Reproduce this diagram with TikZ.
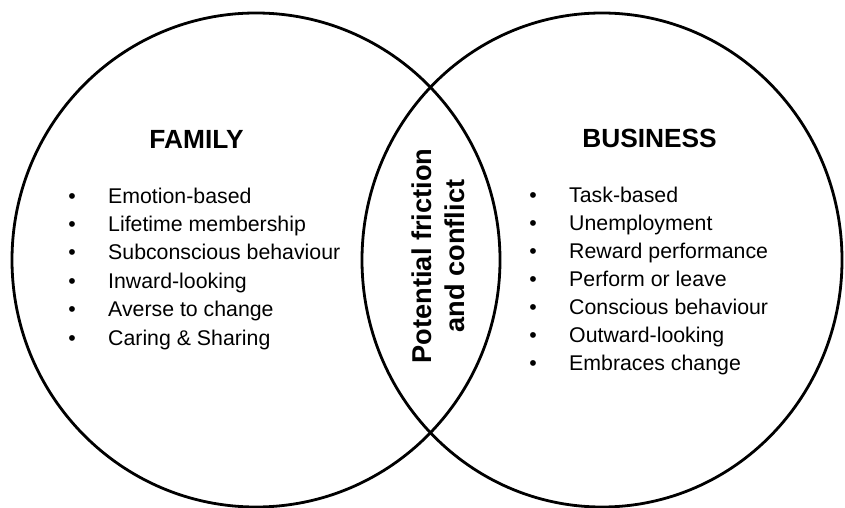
\documentclass[tikz,border=0pt]{standalone}
\usepackage{fontspec}
\setmainfont{Liberation Sans}
\begin{document}
\begin{tikzpicture}[x=1pt,y=-1pt,
  ring/.style={line width=2.8pt},
  titletext/.style={anchor=base,inner sep=0pt,font=\bfseries\fontsize{26.3}{30}\selectfont},
  itemtext/.style={anchor=base west,inner sep=0pt,font=\fontsize{21.3}{25}\selectfont},
  bullettext/.style={anchor=base,inner sep=0pt,font=\fontsize{21.3}{25}\selectfont},
  midtext/.style={rotate=90,align=center,inner sep=0pt,font=\bfseries\fontsize{27.2}{33}\selectfont}]
\useasboundingbox (0,0) rectangle (845,508);
\draw[ring] (256,260) ellipse [x radius=244pt, y radius=247pt];
\draw[ring] (602,260) ellipse [x radius=240pt, y radius=247pt];
\node[titletext] (fam) at (196.5,148) {FAMILY};
\node[titletext] (bus) at (649.5,147) {BUSINESS};
\foreach \t [count=\i from 0] in {Emotion-based,Lifetime membership,Subconscious behaviour,Inward-looking,Averse to change,Caring \& Sharing}{
  \node[bullettext] (lb\i) at (72,203+28.4*\i) {•};
  \node[itemtext] (lt\i) at (108,203+28.4*\i) {\t};
}
\foreach \t [count=\i from 0] in {Task-based,Unemployment,Reward performance,Perform or leave,Conscious behaviour,Outward-looking,Embraces change}{
  \node[bullettext] (rb\i) at (533,202+28*\i) {•};
  \node[itemtext] (rt\i) at (569,202+28*\i) {\t};
}
\node[midtext] (mid) at (438.5,256) {Potential friction\\and conflict};
\end{tikzpicture}
\end{document}
